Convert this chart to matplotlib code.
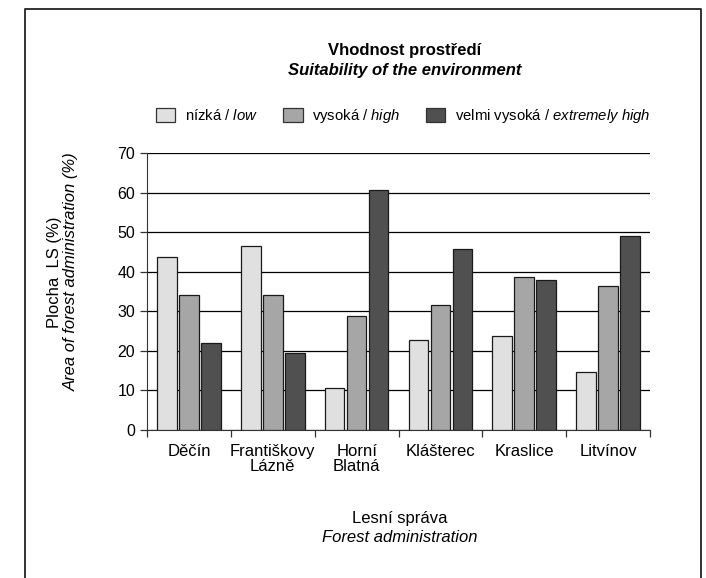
import numpy as np
import matplotlib
matplotlib.use('Agg')
import matplotlib.pyplot as plt
from matplotlib.patches import Patch
from matplotlib.lines import Line2D

plt.rcParams['font.family'] = ['Liberation Sans', 'DejaVu Sans']
plt.rcParams['mathtext.fontset'] = 'custom'
plt.rcParams['mathtext.rm'] = 'Liberation Sans'
plt.rcParams['mathtext.it'] = 'Liberation Sans:italic'

# data
spravy = ['Děčín', 'Františkovy\nLázně', 'Horní\nBlatná', 'Klášterec',
          'Kraslice', 'Litvínov']
nizka = [43.8, 46.6, 10.5, 22.8, 23.7, 14.7]
vysoka = [34.1, 34.0, 28.9, 31.7, 38.6, 36.4]
velmi_vysoka = [22.1, 19.4, 60.7, 45.7, 37.8, 49.1]

series = [nizka, vysoka, velmi_vysoka]
colors = ['#e0e0e0', '#a6a6a6', '#505050']
labels = ['nízká / $\\mathit{low}$', 'vysoká / $\\mathit{high}$',
          'velmi vysoká / $\\mathit{extremely\\ high}$']

fig = plt.figure(figsize=(7.06, 5.78), dpi=100)
ax = fig.add_axes([147 / 706, 1 - 430 / 578, 503 / 706, 277 / 578])

x = np.arange(len(spravy))
step = 0.262
width = 0.235
for i, (vals, col) in enumerate(zip(series, colors)):
    ax.bar(x + (i - 1) * step, vals, width, color=col, edgecolor='#1a1a1a',
           linewidth=0.9, zorder=3)

ax.set_xlim(-0.5, len(spravy) - 0.5)
ax.set_ylim(0, 70)
ax.set_yticks(range(0, 71, 10))
ax.yaxis.grid(True, color='black', linewidth=0.9, zorder=0)
ax.set_axisbelow(True)

# ticks between categories, labels centred under the groups
ax.set_xticks(np.arange(-0.5, len(spravy), 1.0))
ax.set_xticklabels([])
ax.set_xticks(x, minor=True)
ax.set_xticklabels(spravy, minor=True, fontsize=12, linespacing=1.0)
ax.tick_params(axis='x', which='major', length=5, width=0.9, color='#333333')
ax.tick_params(axis='x', which='minor', length=0, pad=10)
ax.tick_params(axis='y', length=5, width=0.9, labelsize=11.5, pad=3.5,
               color='#333333')

for s in ['top', 'right']:
    ax.spines[s].set_visible(False)
ax.spines['left'].set_color('#333333')
ax.spines['bottom'].set_color('#333333')

# titles and axis labels
fig.text(405 / 706, 1 - 51 / 578, 'Vhodnost prostředí', ha='center',
         va='center', fontsize=12, fontweight='bold')
fig.text(405 / 706, 1 - 70 / 578, 'Suitability of the environment',
         ha='center', va='center', fontsize=12, fontweight='bold',
         style='italic')
fig.text(54 / 706, 1 - 272 / 578, 'Plocha  LS (%)', rotation=90,
         ha='center', va='center', fontsize=12)
fig.text(71 / 706, 1 - 272 / 578, 'Area of forest administration (%)',
         rotation=90, ha='center', va='center', fontsize=12,
         style='italic')
fig.text(400 / 706, 1 - 518 / 578, 'Lesní správa', ha='center',
         va='center', fontsize=12)
fig.text(400 / 706, 1 - 538 / 578, 'Forest administration', ha='center',
         va='center', fontsize=12, style='italic')

handles = [Patch(facecolor=c, edgecolor='#333333', linewidth=0.9)
           for c in colors]
fig.legend(handles, labels, loc='center', ncol=3, frameon=False,
           bbox_to_anchor=(403 / 706, 1 - 116 / 578), fontsize=10.7,
           handlelength=1.3, handleheight=1.0, handletextpad=0.65,
           columnspacing=1.7)

# frame around the figure (open at the bottom)
fx0, fx1, fy = 25 / 706, 701 / 706, 1 - 9 / 578
fig.add_artist(Line2D([fx0, fx0, fx1, fx1], [0, fy, fy, 0],
                      transform=fig.transFigure, color='#333333',
                      linewidth=1.4))

fig.savefig('out.png', dpi=100)
